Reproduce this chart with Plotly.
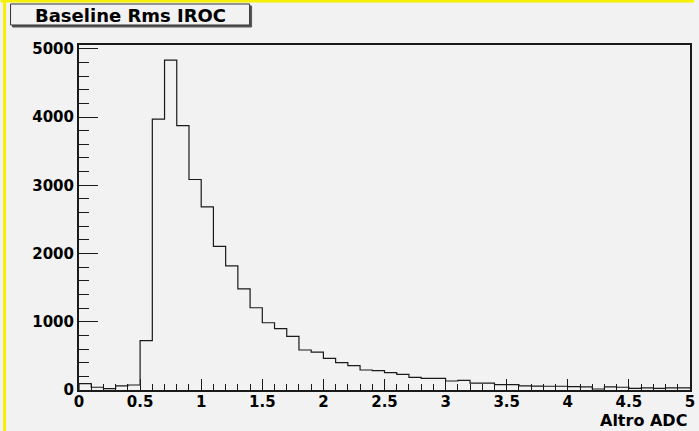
import numpy as np
import plotly.graph_objects as go

# ---- data ----
title_text = "Baseline Rms IROC"
x_title = "Altro ADC"
x_min, x_max, n_bins = 0.0, 5.0, 50
counts = [92, 40, 20, 59, 73, 722, 3968, 4832, 3875, 3084,
          2682, 2104, 1820, 1483, 1205, 985, 898, 786, 586, 556,
          464, 400, 356, 293, 283, 254, 230, 185, 171, 171,
          132, 142, 102, 102, 78, 78, 59, 58, 55, 55,
          50, 45, 15, 45, 40, 25, 30, 25, 30, 30]
x_tickvals = [0, 0.5, 1, 1.5, 2, 2.5, 3, 3.5, 4, 4.5, 5]
x_ticktext = ["0", "0.5", "1", "1.5", "2", "2.5", "3", "3.5", "4", "4.5", "5"]
y_tickvals = [0, 1000, 2000, 3000, 4000, 5000]
y_ticktext = ["0", "1000", "2000", "3000", "4000", "5000"]
y_max = 5055

# ---- geometry ----
W, H = 699, 431
L, R, T, B = 79, 4, 45, 41
PW, PH = W - L - R, H - T - B

def px(x):
    return (x - L) / PW

def py(y):
    return (H - B - y) / PH

edges = np.linspace(x_min, x_max, n_bins + 1)
xs = np.concatenate([[edges[0]], edges])
ys = np.concatenate([[0], counts, [counts[-1]]])

BG = "#f2f2f2"
FONT = "DejaVu Sans"

fig = go.Figure()
fig.add_trace(go.Scatter(x=xs, y=ys, mode="lines", line=dict(shape="hv", color="#1a1a1a", width=1.2),
                         hoverinfo="skip", showlegend=False))

fig.update_layout(
    width=W, height=H,
    margin=dict(l=L, r=R, t=T, b=B, pad=0),
    paper_bgcolor=BG, plot_bgcolor=BG,
    showlegend=False,
    font=dict(family=FONT, color="black"),
)
fig.update_xaxes(
    range=[x_min, x_max], tickvals=x_tickvals, ticktext=x_ticktext,
    ticks="inside", ticklen=11, tickwidth=1.2, tickcolor="#1a1a1a",
    minor=dict(dtick=0.1, tick0=0, ticks="inside", ticklen=6, tickwidth=1.2, tickcolor="#1a1a1a"),
    showgrid=False, zeroline=False,
    showline=True, linecolor="#1a1a1a", linewidth=2, mirror=True,
    ticklabelstandoff=-3,
    tickfont=dict(family=FONT, size=15, color="black", weight="bold"),
)
fig.update_yaxes(
    range=[0, y_max], tickvals=y_tickvals, ticktext=y_ticktext,
    ticks="inside", ticklen=19, tickwidth=1.2, tickcolor="#1a1a1a",
    minor=dict(dtick=200, tick0=0, ticks="inside", ticklen=10, tickwidth=1.2, tickcolor="#1a1a1a"),
    showgrid=False, zeroline=False,
    showline=True, linecolor="#1a1a1a", linewidth=2, mirror=True,
    tickfont=dict(family=FONT, size=15, color="black", weight="bold"),
)

shapes = [
    # yellow canvas border (left and top)
    dict(type="line", xref="paper", yref="paper", x0=px(4), x1=px(4), y0=py(0), y1=py(H),
         line=dict(color="#f5f000", width=3)),
    dict(type="line", xref="paper", yref="paper", x0=px(0), x1=px(W), y0=py(1), y1=py(1),
         line=dict(color="#f5f000", width=3)),
    # title box shadow
    dict(type="rect", xref="paper", yref="paper", x0=px(12), x1=px(253), y0=py(27), y1=py(6),
         line=dict(color="#555555", width=1), fillcolor="#555555"),
    # title box
    dict(type="rect", xref="paper", yref="paper", x0=px(10), x1=px(251), y0=py(25), y1=py(4),
         line=dict(color="#333333", width=1), fillcolor=BG),
]
fig.update_layout(shapes=shapes)

fig.add_annotation(text=title_text, xref="paper", yref="paper", x=px(130.5), y=py(15.5),
                   xanchor="center", yanchor="middle", showarrow=False,
                   font=dict(family=FONT, size=18, color="black", weight="bold"))
fig.add_annotation(text=x_title, xref="paper", yref="paper", x=px(694), y=py(420),
                   xanchor="right", yanchor="middle", showarrow=False,
                   font=dict(family=FONT, size=16, color="black", weight="bold"))

fig.write_html("out.html", config={"displayModeBar": False})

# remove default page margins so the figure sits at the window's top-left corner
with open("out.html", "r", encoding="utf-8") as f:
    html = f.read()
html = html.replace("<head>", "<head><style>html,body{margin:0;padding:0;overflow:hidden;background:#f2f2f2;}</style>", 1)
with open("out.html", "w", encoding="utf-8") as f:
    f.write(html)
